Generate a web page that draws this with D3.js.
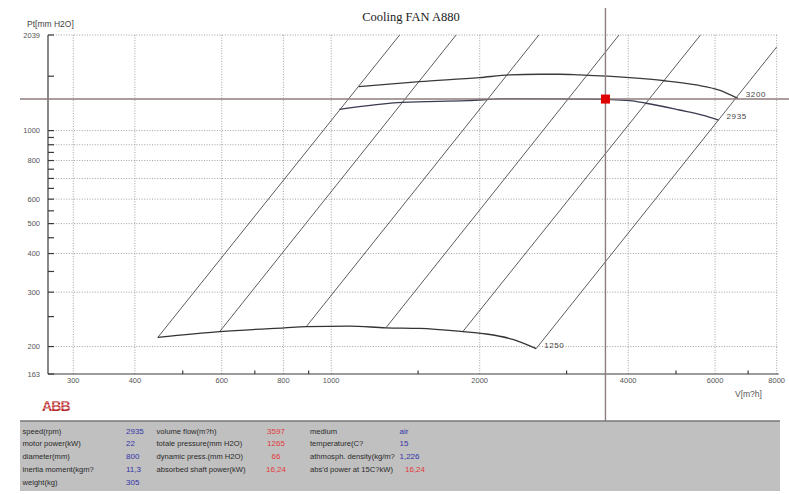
<!DOCTYPE html>
<html><head><meta charset="utf-8">
<script src="https://cdn.jsdelivr.net/npm/d3@7/dist/d3.min.js"></script>
<style>body{margin:0;background:#fff}svg{display:block}</style>
</head><body>
<svg id="c" width="789" height="494"></svg>
<script>
// ---- data ----
const xTickLabels = [300, 400, 600, 800, 1000, 2000, 4000, 6000, 8000];
const xMinorTicks = [500, 700, 900, 1500, 3000, 5000, 7000];
const yTickLabels = [2039, 1000, 800, 600, 500, 400, 300, 200, 163];
const yGridValues = [2039, 1000, 900, 800, 700, 600, 500, 400, 300, 200];
const yMinorTicks = [1500, 950, 900, 850, 750, 700, 650, 550, 450, 350, 250];

const curve3200 = [[1137,1387],[1510,1440],[1998,1484],[2298,1514],[2644,1522],[2903,1522],[3187,1514],[4024,1484],[4740,1450],[5495,1405],[6118,1353],[6672,1272]];
const curve2935 = [[1039,1172],[1397,1235],[1889,1250],[2298,1269],[2903,1266],[3308,1264],[4024,1250],[4351,1226],[5083,1166],[5656,1123],[6098,1082]];
const curve1250 = [[445,214],[594,223.5],[804,230],[890,232],[1089,233],[1291,230],[1510,229],[1848,223.5],[2062,219.6],[2334,211],[2603,197]];
// system resistance lines: [start on 1250 curve, end at chart edge]
const systemLines = [
  [[445,214],[1376,2039]],
  [[594,223.5],[1791,2039]],
  [[890,232],[2636,2039]],
  [[1291,230],[3832,2039]],
  [[1848,223.5],[5606,2039]],
  [[2603,197],[8000,1865]]
];
const speedLabels = [["3200",6672,1272],["2935",6098,1082],["1250",2603,197]];
const opPoint = [3597, 1265];

const tableCol1 = [["speed(rpm)","2935"],["motor power(kW)","22"],["diameter(mm)","800"],["inertia moment(kgm?","11,3"],["weight(kg)","305"]];
const tableCol2 = [["volume flow(m?h)","3597"],["totale pressure(mm H2O)","1265"],["dynamic press.(mm H2O)","66"],["absorbed shaft power(kW)","16,24"]];
const tableCol3 = [["medium","air","b"],["temperature(C?","15","b"],["athmosph. density(kg/m?","1,226","b"],["abs'd power at 15C?kW)","16,24","r"]];

// ---- chart ----
const svg = d3.select("#c");
const L = 48, R = 776.7, T = 35, B = 374;
const x = d3.scaleLog().domain([266.6, 8000]).range([L, R]);
const y = d3.scaleLog().domain([163, 2039]).range([B, T]);

svg.append("defs").append("clipPath").attr("id","pa")
  .append("rect").attr("x",L).attr("y",T).attr("width",R-L+0.5).attr("height",B-T);

// title
svg.append("text").attr("x",411).attr("y",21).attr("text-anchor","middle")
  .attr("font-family","Liberation Serif, serif").attr("font-size",12.5).attr("fill","#222")
  .text("Cooling FAN A880");

// grid
const grid = svg.append("g").attr("stroke","#8a8a8a").attr("stroke-width",0.8).attr("stroke-dasharray","1,1.6");
grid.selectAll(".vg").data(xTickLabels).join("line")
  .attr("x1",d=>x(d)).attr("x2",d=>x(d)).attr("y1",T).attr("y2",B);
grid.selectAll(".hg").data(yGridValues).join("line")
  .attr("x1",L).attr("x2",R).attr("y1",d=>y(d)).attr("y2",d=>y(d));

// axes
const ax = svg.append("g").attr("stroke","#3a3a3a").attr("stroke-width",1.2);
ax.append("line").attr("x1",L).attr("x2",L).attr("y1",T).attr("y2",B);
ax.append("line").attr("x1",L).attr("x2",R+2).attr("y1",B).attr("y2",B);
ax.selectAll(".yt").data(yTickLabels.concat(yMinorTicks)).join("line")
  .attr("x1",L).attr("x2",L+6).attr("y1",d=>y(d)).attr("y2",d=>y(d));
ax.selectAll(".xt").data(xMinorTicks).join("line")
  .attr("x1",d=>x(d)).attr("x2",d=>x(d)).attr("y1",B).attr("y2",B-3.5);

const tickFont = {ff:"Liberation Sans, Arial, sans-serif", fs:7.5, fill:"#555"};
svg.selectAll(".yl").data(yTickLabels).join("text")
  .attr("x",40).attr("y",d=>y(d)+2.5).attr("text-anchor","end")
  .attr("font-family",tickFont.ff).attr("font-size",tickFont.fs).attr("fill",tickFont.fill)
  .text(d=>d);
svg.selectAll(".xl").data(xTickLabels).join("text")
  .attr("x",d=>x(d)).attr("y",B+8.5).attr("text-anchor","middle")
  .attr("font-family",tickFont.ff).attr("font-size",tickFont.fs).attr("fill",tickFont.fill)
  .text(d=>d);
svg.append("text").attr("x",27).attr("y",27).attr("font-family",tickFont.ff).attr("font-size",8.5).attr("fill","#444").text("Pt[mm H2O]");
svg.append("text").attr("x",735).attr("y",397).attr("font-family",tickFont.ff).attr("font-size",8.5).attr("fill","#555").text("V[m?h]");

// curves
const plot = svg.append("g").attr("clip-path","url(#pa)");
const line = d3.line().x(d=>x(d[0])).y(d=>y(d[1]));
plot.selectAll(".sys").data(systemLines).join("path")
  .attr("d",line).attr("fill","none").attr("stroke","#3f3f3f").attr("stroke-width",0.85);
const cl = d3.line().x(d=>x(d[0])).y(d=>y(d[1])).curve(d3.curveMonotoneX);
plot.append("path").attr("d",cl(curve3200)).attr("fill","none").attr("stroke","#3a3a3a").attr("stroke-width",1.3);
plot.append("path").attr("d",cl(curve2935)).attr("fill","none").attr("stroke","#3a3a50").attr("stroke-width",1.3);
plot.append("path").attr("d",cl(curve1250)).attr("fill","none").attr("stroke","#333").attr("stroke-width",1.3);

svg.selectAll(".sl").data(speedLabels).join("text")
  .attr("x",d=>x(d[1])+8).attr("y",d=>y(d[2])-1)
  .attr("font-family",tickFont.ff).attr("font-size",8).attr("fill","#444").attr("letter-spacing",0.6)
  .text(d=>d[0]);

// crosshair
const cx = x(opPoint[0]), cy = y(opPoint[1]);
svg.append("line").attr("x1",20).attr("x2",789).attr("y1",cy).attr("y2",cy).attr("stroke","#8c7e7c").attr("stroke-width",1.4);
svg.append("line").attr("x1",cx).attr("x2",cx).attr("y1",8).attr("y2",421).attr("stroke","#8c7e7c").attr("stroke-width",1.4);
svg.append("rect").attr("x",cx-4.5).attr("y",cy-4.5).attr("width",9).attr("height",9).attr("fill","#e00000");

// ABB logo
const logo = svg.append("g");
logo.append("text").attr("x",42).attr("y",411).attr("font-family","Liberation Sans, Arial, sans-serif")
  .attr("font-weight","bold").attr("font-size",14).attr("fill","#b8282a").attr("letter-spacing",-0.8).text("ABB");
[402, 405, 408].forEach(v => logo.append("line").attr("x1",40).attr("x2",72).attr("y1",v).attr("y2",v).attr("stroke","#fff").attr("stroke-width",0.7));

// table
svg.append("rect").attr("x",20).attr("y",420.5).attr("width",760).attr("height",70.5).attr("fill","#c0c0c0");
svg.append("line").attr("x1",20).attr("x2",780).attr("y1",421).attr("y2",421).attr("stroke","#555").attr("stroke-width",1.2);
const rowY = i => 433.5 + i*12.9;
const tf = "Liberation Sans, Arial, sans-serif", tfs = 7.6;
const blue = "#3434a8", red = "#e03a3a", lab = "#2a2a2a";
function addCol(rows, lx){
  rows.forEach((r,i)=>{
    svg.append("text").attr("x",lx).attr("y",rowY(i)).attr("font-family",tf).attr("font-size",tfs).attr("fill",lab).text(r[0]);
  });
}
addCol(tableCol1, 22.5);
tableCol1.forEach((r,i)=>svg.append("text").attr("x",126).attr("y",rowY(i)).attr("font-family",tf).attr("font-size",tfs+0.4).attr("fill",blue).text(r[1]));
addCol(tableCol2, 156.5);
tableCol2.forEach((r,i)=>svg.append("text").attr("x",276).attr("y",rowY(i)).attr("text-anchor","middle").attr("font-family",tf).attr("font-size",tfs+0.4).attr("fill",red).text(r[1]));
addCol(tableCol3, 310);
tableCol3.forEach((r,i)=>svg.append("text").attr("x",r[2]==="r"?405:399.5).attr("y",rowY(i)).attr("font-family",tf).attr("font-size",tfs+0.4).attr("fill",r[2]==="r"?red:blue).text(r[1]));
</script>
</body></html>
